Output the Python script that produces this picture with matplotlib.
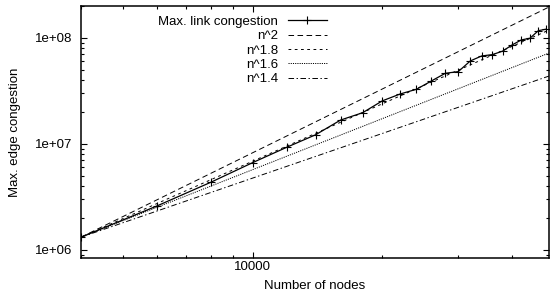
import numpy as np
import matplotlib
matplotlib.use("Agg")
import matplotlib.pyplot as plt
from matplotlib.ticker import LogLocator, FuncFormatter, NullFormatter

plt.rcParams['font.family'] = ['Liberation Sans', 'DejaVu Sans']
plt.rcParams['lines.scale_dashes'] = False

nodes = [4000, 6000, 8000, 10000, 12000, 14000, 16000, 18000, 20000, 22000, 24000,
         26000, 28000, 30000, 32000, 34000, 36000, 38000, 40000, 42000, 44000, 46000, 48000]
congestion = [1.32e6, 2.60e6, 4.35e6, 6.66e6, 9.3e6, 1.22e7, 1.68e7, 1.97e7, 2.55e7, 2.96e7,
              3.28e7, 3.93e7, 4.64e7, 4.81e7, 6.07e7, 6.76e7, 6.96e7, 7.5e7, 8.59e7, 9.57e7,
              9.94e7, 1.17e8, 1.21e8]

# reference power laws, anchored at the first measurement
exponents = [2.0, 1.8, 1.6, 1.4]
ref_labels = ['n^2', 'n^1.8', 'n^1.6', 'n^1.4']
ref_styles = [(0, (4, 2.5)), (0, (2, 2.5)), (0, (0.8, 0.8)), (0, (4, 1.8, 1, 1.8))]

fig = plt.figure(figsize=(5.5, 2.94), dpi=100)
ax = fig.add_axes([81 / 550, 1 - 258 / 294, 468 / 550, 252 / 294])

n = np.array(nodes, dtype=float)
ax.plot(n, congestion, color='black', lw=0.9, marker='+', markersize=5.5, mew=0.8,
        label='Max. link congestion')
xs = np.array([4000, 48700], dtype=float)
for k, lab, ls in zip(exponents, ref_labels, ref_styles):
    ax.plot(xs, congestion[0] * (xs / nodes[0]) ** k, color='black', lw=0.7,
            linestyle=ls, label=lab)

ax.set_xscale('log')
ax.set_yscale('log')
ax.set_xlim(4000, 48700)
ax.set_ylim(8.4e5, 2.0e8)

ax.xaxis.set_major_locator(LogLocator(base=10))
ax.xaxis.set_minor_locator(LogLocator(base=10, subs=np.arange(2, 10)))
ax.xaxis.set_major_formatter(FuncFormatter(lambda v, _: '%d' % v))
ax.xaxis.set_minor_formatter(NullFormatter())
ax.yaxis.set_major_formatter(FuncFormatter(lambda v, _: '%.0e' % v))
ax.yaxis.set_minor_formatter(NullFormatter())

ax.tick_params(which='both', direction='in', top=True, right=True, labelsize=9.5, width=0.8)
ax.tick_params(which='major', length=4)
ax.tick_params(which='minor', length=2)
ax.tick_params(axis='x', pad=2)
ax.tick_params(axis='y', pad=6)
for s in ax.spines.values():
    s.set_linewidth(1.1)

ax.set_xlabel('Number of nodes', fontsize=9.5, labelpad=5)
ax.set_ylabel('Max. edge congestion', fontsize=9.5, labelpad=10)

ax.legend(loc='upper right', bbox_to_anchor=(0.526, 0.962), frameon=False,
          markerfirst=False, fontsize=9.5, handlelength=3.0, handletextpad=0.7,
          labelspacing=0.16, borderpad=0, borderaxespad=0)

plt.savefig('out.png', dpi=100)
